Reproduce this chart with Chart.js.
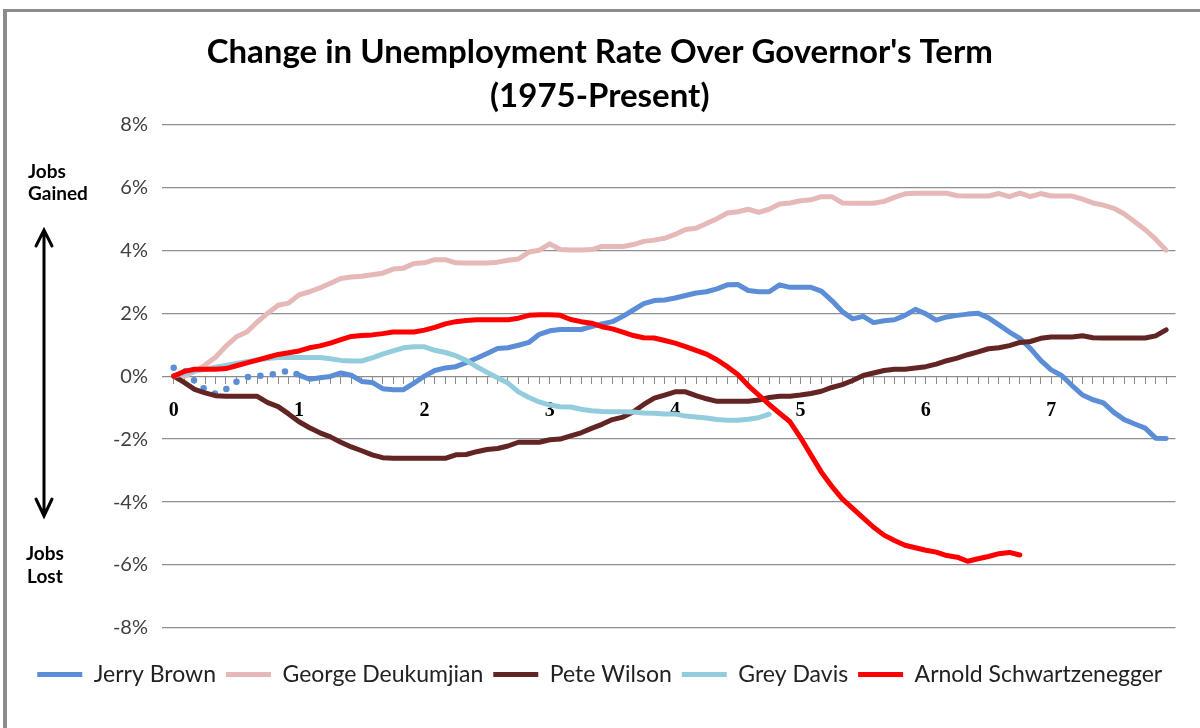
<!DOCTYPE html>
<html lang="en">
<head>
  <meta charset="UTF-8">
  <title>Change in Unemployment Rate Over Governor's Term</title>
  <style>
    body { margin: 0; padding: 0; background: #fff; }
    #wrap { position: relative; width: 1200px; height: 728px; }
  </style>
</head>
<body>
  <div id="wrap"><canvas id="chart"></canvas></div>

  <script src="https://cdn.jsdelivr.net/npm/chart.js"></script>
  <script>
    // months since the governor took office
    const months = [0,1,2,3,4,5,6,7,8,9,10,11,12,13,14,15,16,17,18,19,20,21,22,23,
      24,25,26,27,28,29,30,31,32,33,34,35,36,37,38,39,40,41,42,43,44,45,46,47,
      48,49,50,51,52,53,54,55,56,57,58,59,60,61,62,63,64,65,66,67,68,69,70,71,
      72,73,74,75,76,77,78,79,80,81,82,83,84,85,86,87,88,89,90,91,92,93,94,95];
    const yearLabels = ['0','1','2','3','4','5','6','7'];
    const seriesNames = ['Jerry Brown','George Deukumjian','Pete Wilson','Grey Davis','Arnold Schwartzenegger'];
    const seriesColors = ['#5b8ed6','#e6b9b8','#632523','#93cddd','#ff0000'];

    // change in unemployment rate (percentage points)
    const jerryBrown = [0.27,0.2,-0.15,-0.42,-0.56,-0.42,-0.18,-0.03,0.0,0.04,0.08,0.18,
      0.03,-0.1,-0.05,-0.01,0.1,0.03,-0.17,-0.2,-0.4,-0.43,-0.43,-0.22,
      0.0,0.18,0.26,0.3,0.43,0.57,0.72,0.88,0.9,0.98,1.07,1.33,
      1.44,1.48,1.48,1.48,1.57,1.66,1.73,1.9,2.1,2.3,2.4,2.42,
      2.48,2.56,2.64,2.68,2.77,2.9,2.91,2.72,2.68,2.68,2.9,2.82,
      2.82,2.82,2.7,2.4,2.05,1.82,1.9,1.7,1.76,1.79,1.93,2.12,
      1.98,1.78,1.88,1.93,1.97,2.0,1.85,1.63,1.4,1.2,0.88,0.5,
      0.2,0.02,-0.3,-0.6,-0.75,-0.85,-1.15,-1.38,-1.52,-1.65,-1.97,-1.98];
    const deukmejian = [0,0,0.15,0.35,0.6,0.95,1.25,1.4,1.72,2.0,2.25,2.32,
      2.58,2.68,2.8,2.95,3.1,3.15,3.17,3.22,3.27,3.4,3.43,3.58,
      3.6,3.7,3.7,3.6,3.59,3.59,3.59,3.62,3.68,3.72,3.94,4.0,
      4.2,4.02,4.01,4.01,4.02,4.12,4.12,4.12,4.18,4.28,4.32,4.38,
      4.5,4.66,4.7,4.85,5.0,5.18,5.22,5.3,5.2,5.3,5.47,5.5,
      5.57,5.6,5.7,5.7,5.5,5.49,5.49,5.49,5.55,5.68,5.79,5.81,
      5.81,5.81,5.81,5.73,5.72,5.72,5.72,5.8,5.7,5.81,5.7,5.8,
      5.72,5.72,5.72,5.62,5.5,5.43,5.33,5.15,4.9,4.65,4.35,4.0];
    const peteWilson = [0,-0.2,-0.42,-0.53,-0.62,-0.64,-0.64,-0.64,-0.64,-0.84,-0.97,-1.2,
      -1.45,-1.64,-1.8,-1.93,-2.1,-2.25,-2.37,-2.5,-2.59,-2.61,-2.61,-2.61,
      -2.61,-2.61,-2.61,-2.5,-2.49,-2.4,-2.33,-2.3,-2.22,-2.1,-2.1,-2.1,
      -2.02,-2.0,-1.9,-1.8,-1.66,-1.53,-1.38,-1.3,-1.13,-0.9,-0.7,-0.6,
      -0.5,-0.5,-0.62,-0.72,-0.8,-0.8,-0.8,-0.8,-0.76,-0.68,-0.64,-0.64,
      -0.6,-0.55,-0.48,-0.36,-0.27,-0.14,0.02,0.1,0.18,0.22,0.22,0.26,
      0.3,0.38,0.49,0.57,0.68,0.77,0.87,0.9,0.97,1.07,1.1,1.2,
      1.24,1.24,1.24,1.28,1.22,1.21,1.21,1.21,1.21,1.21,1.28,1.47];
    const greyDavis = [0,0.08,0.16,0.22,0.28,0.34,0.4,0.46,0.52,0.56,0.59,0.59,
      0.59,0.59,0.59,0.55,0.5,0.48,0.48,0.58,0.7,0.8,0.9,0.93,
      0.93,0.82,0.75,0.65,0.5,0.3,0.12,-0.05,-0.22,-0.5,-0.68,-0.82,
      -0.92,-0.97,-0.98,-1.05,-1.1,-1.12,-1.13,-1.13,-1.14,-1.17,-1.18,-1.2,
      -1.2,-1.27,-1.3,-1.33,-1.38,-1.4,-1.4,-1.37,-1.32,-1.21];
    const arnold = [0,0.15,0.22,0.22,0.22,0.24,0.33,0.42,0.51,0.6,0.69,0.74,
      0.8,0.9,0.96,1.05,1.16,1.26,1.29,1.31,1.35,1.4,1.4,1.4,
      1.46,1.55,1.66,1.73,1.77,1.79,1.79,1.79,1.79,1.84,1.93,1.95,
      1.95,1.93,1.8,1.73,1.68,1.57,1.5,1.4,1.29,1.22,1.21,1.13,
      1.05,0.94,0.82,0.7,0.52,0.3,0.05,-0.3,-0.6,-0.9,-1.18,-1.45,
      -1.95,-2.5,-3.05,-3.5,-3.9,-4.2,-4.5,-4.8,-5.05,-5.22,-5.37,-5.45,
      -5.53,-5.59,-5.7,-5.75,-5.88,-5.8,-5.73,-5.64,-5.6,-5.68];
    const yTicks = [-8,-6,-4,-2,0,2,4,6,8];

    const allSeries = [jerryBrown, deukmejian, peteWilson, greyDavis, arnold];
    const datasets = allSeries.map((vals, i) => ({
      label: seriesNames[i],
      data: vals,
      borderColor: seriesColors[i],
      backgroundColor: seriesColors[i],
      borderWidth: 5,
      borderCapStyle: 'round',
      borderJoinStyle: 'round',
      pointRadius: 0,
      tension: 0,
      order: 5 - i   // later series drawn on top, like Excel
    }));
    // Jerry Brown's first year is drawn dotted
    datasets[0].segment = {
      borderDash: ctx => ctx.p1DataIndex <= 12 ? [0, 12.5] : undefined,
      borderWidth: ctx => ctx.p1DataIndex <= 12 ? 6.5 : undefined
    };

    // frame, "Jobs Gained / Jobs Lost" note and the double arrow
    const sideNote = {
      id: 'sideNote',
      afterDraw(chart) {
        const ctx = chart.ctx;
        ctx.save();
        ctx.fillStyle = '#8c8c8c';
        ctx.fillRect(3, 9, 1197, 3);
        ctx.fillRect(3, 9, 4, 719);

        ctx.fillStyle = '#000';
        ctx.font = 'bold 19px Lato';
        ctx.textAlign = 'left';
        ctx.textBaseline = 'alphabetic';
        ctx.fillText('Jobs', 28, 178);
        ctx.fillText('Gained', 28, 200);
        ctx.fillText('Jobs', 26, 560);
        ctx.fillText('Lost', 27, 583);

        ctx.strokeStyle = '#000';
        ctx.lineWidth = 3;
        ctx.lineCap = 'round';
        ctx.lineJoin = 'miter';
        ctx.beginPath();
        ctx.moveTo(44, 231); ctx.lineTo(44, 515);
        ctx.moveTo(36, 246); ctx.lineTo(44, 230); ctx.lineTo(52, 246);
        ctx.moveTo(36, 499); ctx.lineTo(44, 516); ctx.lineTo(52, 499);
        ctx.stroke();
        ctx.restore();
      }
    };

    new Chart(document.getElementById('chart'), {
      type: 'line',
      data: { labels: months, datasets: datasets },
      plugins: [sideNote],
      options: {
        responsive: true,
        maintainAspectRatio: false,
        animation: false,
        layout: { padding: { left: 24, right: 24.5, top: 0, bottom: 32 } },
        scales: {
          x: {
            type: 'linear',
            min: -1.12,
            max: 95.9,
            position: { y: 0 },
            grid: {
              drawOnChartArea: false,
              drawTicks: true,
              tickLength: 7,
              tickColor: c => (c.tick && c.tick.value < 0) ? 'rgba(0,0,0,0)' : '#8c8c8c'
            },
            border: { display: true, color: '#8c8c8c', width: 1 },
            ticks: {
              stepSize: 1,
              includeBounds: false,
              autoSkip: false,
              maxRotation: 0,
              minRotation: 0,
              padding: 16,
              color: '#000',
              font: { family: 'Liberation Serif', size: 20, weight: 'bold' },
              callback: v => {
                const m = Math.round(v);
                return (m >= 0 && m % 12 === 0) ? yearLabels[m / 12] : '';
              }
            }
          },
          y: {
            min: yTicks[0],
            max: yTicks[yTicks.length - 1],
            afterFit: s => { s.width = 138; },
            grid: { color: '#8f8f8f', lineWidth: 1.2, drawTicks: false },
            border: { display: false },
            ticks: {
              stepSize: 2,
              padding: 14,
              color: '#404040',
              font: { family: 'Lato', size: 20 },
              callback: v => v + '%'
            }
          }
        },
        plugins: {
          title: {
            display: true,
            text: ["Change in Unemployment Rate Over Governor's Term", '(1975-Present)'],
            color: '#000',
            font: { family: 'Lato', size: 33, weight: 'bold', lineHeight: 1.36 },
            padding: { top: 29.5, bottom: 5 }
          },
          legend: {
            position: 'bottom',
            title: { display: true, text: '', font: { size: 10 }, padding: { top: 13, bottom: 0 } },
            labels: {
              usePointStyle: true,
              pointStyle: 'line',
              pointStyleWidth: 45,
              padding: 10,
              color: '#222',
              font: { family: 'Lato', size: 23 },
              sort: (a, b) => a.datasetIndex - b.datasetIndex
            }
          },
          tooltip: { enabled: false }
        }
      }
    });
  </script>
</body>
</html>
